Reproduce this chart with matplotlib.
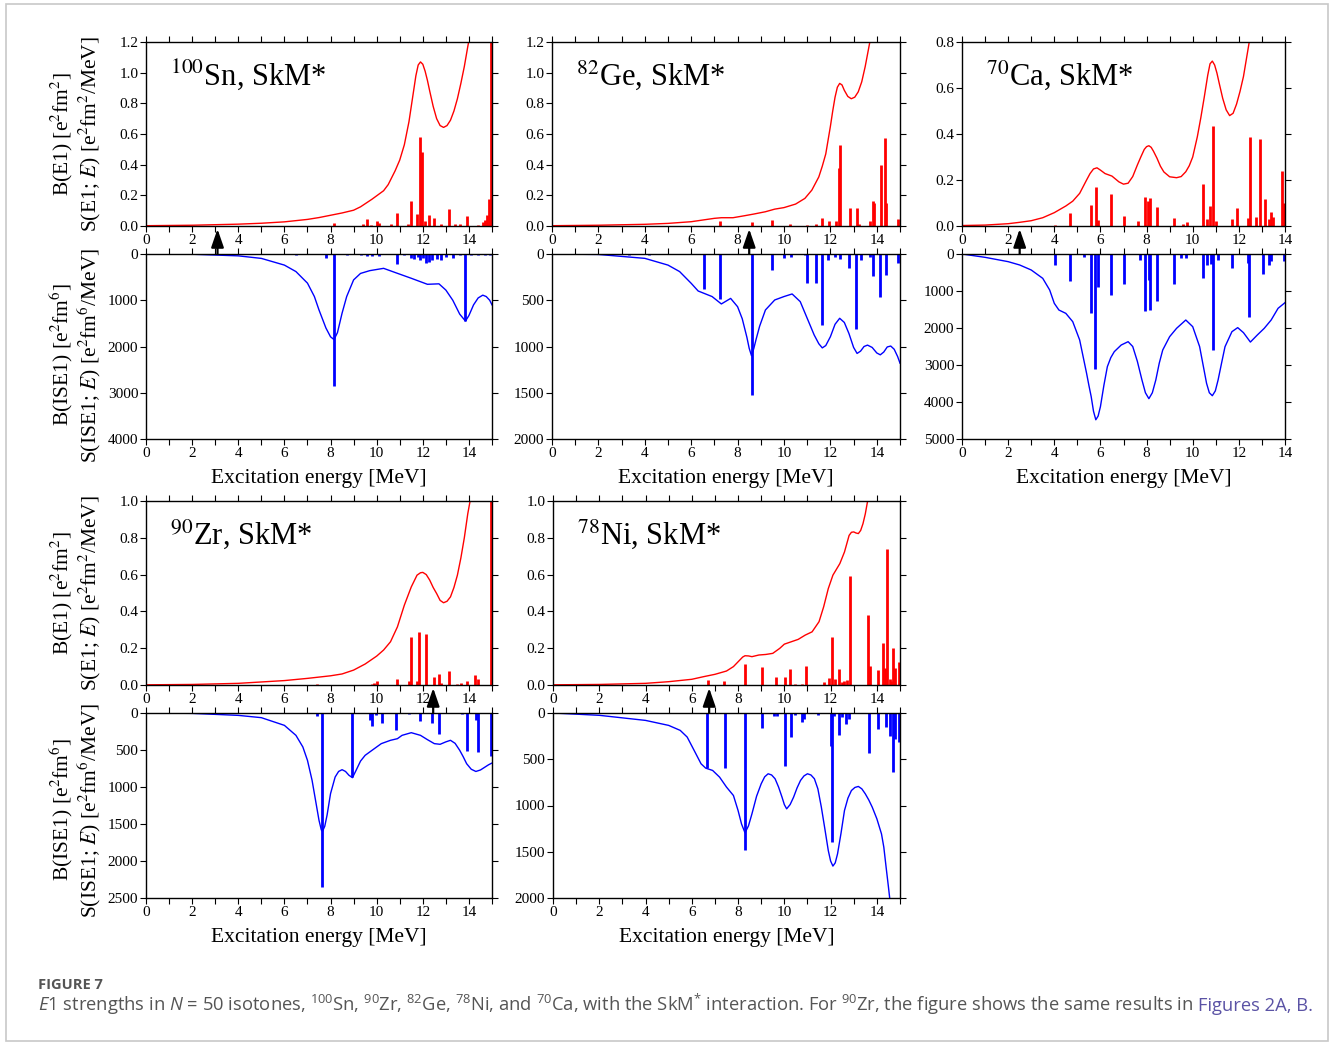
import matplotlib
matplotlib.use("Agg")
import matplotlib.pyplot as plt
from matplotlib.ticker import MultipleLocator, FormatStrFormatter
from matplotlib.patches import Rectangle

# ---------------- data ----------------
# 100Sn
sn_e1_cx = [0, 2, 4, 5, 6, 7, 7.5, 8, 8.5, 9, 9.3, 9.6, 9.8, 10, 10.3, 10.5, 10.8, 11.0, 11.2, 11.4, 11.55, 11.7, 11.8, 11.9, 12.0, 12.1, 12.2, 12.3, 12.45, 12.6, 12.75, 12.9, 13.05, 13.2, 13.35, 13.5, 13.65, 13.8, 13.95, 14.05]
sn_e1_cy = [0.002, 0.005, 0.012, 0.018, 0.027, 0.043, 0.055, 0.07, 0.085, 0.103, 0.125, 0.155, 0.175, 0.197, 0.23, 0.27, 0.36, 0.43, 0.53, 0.68, 0.83, 0.98, 1.05, 1.07, 1.055, 1.01, 0.95, 0.88, 0.78, 0.70, 0.655, 0.643, 0.655, 0.69, 0.75, 0.83, 0.93, 1.04, 1.17, 1.25]
sn_e1_bx = [8.15, 9.4, 9.6, 9.75, 10.0, 10.1, 10.6, 10.9, 11.35, 11.5, 11.75, 11.9, 11.98, 12.1, 12.25, 12.5, 12.8, 13.15, 13.4, 13.6, 13.9, 14.4, 14.6, 14.7, 14.8, 14.87, 14.95]
sn_e1_by = [0.02, 0.01, 0.045, 0.008, 0.035, 0.02, 0.01, 0.085, 0.01, 0.16, 0.08, 0.58, 0.485, 0.035, 0.07, 0.055, 0.015, 0.11, 0.01, 0.01, 0.065, 0.005, 0.025, 0.04, 0.07, 0.175, 1.25]
sn_is_cx = [0, 2, 4, 5, 6, 6.5, 7, 7.3, 7.5, 7.8, 8.0, 8.15, 8.3, 8.5, 8.7, 9.0, 9.3, 9.7, 10.3, 10.8, 11.5, 12.2, 12.7, 13.0, 13.3, 13.6, 13.85, 14.0, 14.2, 14.4, 14.6, 14.75, 14.9, 15]
sn_is_cy = [0, 5, 40, 95, 240, 380, 630, 920, 1210, 1600, 1790, 1850, 1700, 1280, 920, 560, 420, 360, 310, 400, 525, 655, 645, 780, 1000, 1300, 1450, 1330, 1100, 950, 890, 920, 1000, 1100]
sn_is_bx = [6.5, 7.8, 8.15, 8.7, 9.3, 9.6, 9.8, 10.1, 10.9, 11.2, 11.5, 11.6, 11.8, 11.9, 12.0, 12.15, 12.25, 12.4, 12.6, 12.8, 13.0, 13.3, 13.6, 13.85, 14.1, 14.4, 14.7, 14.9]
sn_is_by = [20, 90, 2860, 30, 30, 50, 40, 50, 220, 30, 80, 100, 60, 130, 80, 200, 170, 130, 100, 140, 60, 80, 30, 1450, 25, 20, 25, 20]

# 82Ge
ge_e1_cx = [0, 2, 4, 5, 6, 6.5, 7, 7.3, 7.8, 8.3, 8.7, 9.2, 9.6, 10.0, 10.5, 10.9, 11.2, 11.5, 11.65, 11.8, 11.9, 12.0, 12.1, 12.2, 12.3, 12.4, 12.5, 12.6, 12.75, 12.9, 13.05, 13.2, 13.35, 13.5, 13.6, 13.7, 13.8]
ge_e1_cy = [0.002, 0.005, 0.011, 0.017, 0.028, 0.039, 0.05, 0.054, 0.054, 0.067, 0.078, 0.093, 0.11, 0.12, 0.143, 0.18, 0.234, 0.32, 0.39, 0.47, 0.56, 0.65, 0.75, 0.84, 0.905, 0.93, 0.92, 0.885, 0.845, 0.83, 0.84, 0.875, 0.94, 1.04, 1.12, 1.2, 1.28]
ge_e1_bx = [7.25, 8.6, 9.5, 10.25, 11.0, 11.4, 11.65, 11.95, 12.25, 12.35, 12.4, 12.85, 13.15, 13.25, 13.7, 13.85, 13.9, 14.2, 14.35, 14.4, 14.9]
ge_e1_by = [0.03, 0.025, 0.04, 0.012, 0.005, 0.01, 0.055, 0.03, 0.03, 0.38, 0.525, 0.115, 0.12, 0.015, 0.035, 0.16, 0.15, 0.395, 0.575, 0.15, 0.045]
ge_is_cx = [0, 2, 4, 5, 5.5, 6.0, 6.3, 6.6, 6.9, 7.3, 7.7, 8.0, 8.2, 8.4, 8.5, 8.6, 8.7, 8.8, 8.95, 9.2, 9.6, 10.0, 10.35, 10.7, 11.0, 11.3, 11.5, 11.65, 11.8, 12.0, 12.2, 12.4, 12.6, 12.8, 13.0, 13.15, 13.3, 13.45, 13.6, 13.8, 14.0, 14.15, 14.3, 14.45, 14.6, 14.75, 14.9, 15]
ge_is_cy = [0, 5, 47, 120, 190, 317, 400, 430, 460, 540, 480, 570, 700, 900, 1020, 1100, 1020, 920, 780, 605, 497, 460, 432, 515, 695, 875, 970, 1015, 990, 894, 760, 695, 740, 860, 1010, 1075, 1050, 1000, 985, 1010, 1070, 1090, 1060, 1005, 995, 1030, 1110, 1180]
ge_is_bx = [3.3, 4.2, 6.55, 7.25, 8.6, 9.5, 10.0, 10.3, 10.9, 11.0, 11.4, 11.65, 11.9, 12.2, 12.4, 12.8, 13.1, 13.3, 13.7, 13.85, 14.15, 14.4, 14.9]
ge_is_by = [10, 10, 380, 490, 1520, 170, 40, 30, 15, 310, 310, 770, 60, 30, 50, 150, 810, 60, 30, 240, 470, 230, 100]

# 70Ca
ca_e1_cx = [0, 1, 2, 2.5, 3, 3.5, 4, 4.5, 4.8, 5.1, 5.4, 5.55, 5.7, 5.85, 6.0, 6.2, 6.5, 6.8, 7.0, 7.2, 7.4, 7.6, 7.75, 7.9, 8.0, 8.1, 8.2, 8.3, 8.45, 8.6, 8.75, 9.0, 9.3, 9.5, 9.7, 9.85, 10.0, 10.2, 10.35, 10.5, 10.65, 10.75, 10.85, 10.95, 11.05, 11.15, 11.3, 11.45, 11.6, 11.75, 11.9, 12.05, 12.2, 12.35, 12.45, 12.55]
ca_e1_cy = [0.002, 0.004, 0.01, 0.016, 0.023, 0.036, 0.058, 0.087, 0.108, 0.142, 0.2, 0.228, 0.248, 0.253, 0.243, 0.228, 0.217, 0.192, 0.182, 0.186, 0.215, 0.265, 0.3, 0.333, 0.345, 0.349, 0.342, 0.325, 0.295, 0.26, 0.235, 0.214, 0.21, 0.215, 0.236, 0.262, 0.3, 0.388, 0.47, 0.56, 0.655, 0.705, 0.717, 0.70, 0.665, 0.62, 0.555, 0.505, 0.48, 0.49, 0.53, 0.585, 0.65, 0.74, 0.80, 0.86]
ca_e1_bx = [4.05, 4.7, 5.6, 5.8, 5.9, 6.45, 7.0, 7.65, 7.95, 8.05, 8.15, 8.45, 9.2, 9.6, 9.75, 10.45, 10.6, 10.75, 10.9, 11.0, 11.7, 11.9, 12.4, 12.5, 12.75, 12.9, 13.15, 13.3, 13.4, 13.5, 13.85, 13.95]
ca_e1_by = [0.005, 0.058, 0.09, 0.17, 0.028, 0.14, 0.045, 0.02, 0.128, 0.11, 0.12, 0.083, 0.035, 0.01, 0.016, 0.183, 0.03, 0.085, 0.435, 0.02, 0.03, 0.08, 0.035, 0.385, 0.04, 0.38, 0.118, 0.03, 0.063, 0.04, 0.24, 0.1]
ca_is_cx = [0, 1, 2, 2.5, 3, 3.5, 3.8, 4.0, 4.2, 4.5, 4.8, 5.1, 5.4, 5.5, 5.6, 5.7, 5.8, 5.9, 6.0, 6.15, 6.3, 6.45, 6.6, 6.9, 7.2, 7.4, 7.6, 7.8, 7.95, 8.1, 8.25, 8.4, 8.55, 8.7, 9.0, 9.3, 9.7, 10.0, 10.3, 10.45, 10.6, 10.72, 10.85, 10.98, 11.1, 11.25, 11.4, 11.7, 11.95, 12.2, 12.5, 12.8, 13.1, 13.4, 13.7, 14.0]
ca_is_cy = [0, 90, 207, 297, 432, 658, 973, 1333, 1514, 1604, 1829, 2324, 3225, 3550, 3856, 4250, 4480, 4380, 4126, 3550, 3045, 2800, 2640, 2460, 2370, 2500, 2900, 3405, 3750, 3910, 3750, 3405, 2950, 2595, 2234, 2009, 1784, 1964, 2505, 3000, 3495, 3750, 3830, 3700, 3405, 2950, 2505, 2099, 1990, 2126, 2380, 2189, 2009, 1784, 1468, 1315]
ca_is_bx = [4.05, 4.7, 5.3, 5.6, 5.75, 5.9, 6.45, 7.0, 7.7, 7.95, 8.1, 8.15, 8.45, 9.2, 9.5, 9.7, 10.45, 10.6, 10.8, 10.9, 11.1, 11.7, 12.4, 12.45, 13.05, 13.3, 13.4, 13.95]
ca_is_by = [300, 730, 80, 1600, 3100, 900, 1100, 800, 150, 1550, 700, 1500, 1270, 800, 120, 100, 650, 300, 260, 2600, 150, 380, 250, 1700, 530, 300, 200, 200]

# 90Zr
zr_e1_cx = [0, 2, 4, 6, 7, 8, 8.5, 9.0, 9.5, 10.0, 10.3, 10.6, 10.9, 11.2, 11.5, 11.75, 11.9, 12.0, 12.15, 12.3, 12.45, 12.6, 12.75, 12.9, 13.05, 13.2, 13.35, 13.5, 13.65, 13.8, 13.95, 14.05, 14.1]
zr_e1_cy = [0.001, 0.003, 0.009, 0.024, 0.036, 0.05, 0.06, 0.081, 0.114, 0.157, 0.19, 0.235, 0.316, 0.434, 0.533, 0.597, 0.61, 0.612, 0.60, 0.57, 0.53, 0.497, 0.46, 0.447, 0.455, 0.479, 0.53, 0.597, 0.69, 0.80, 0.931, 1.0, 1.05]
zr_e1_bx = [7.4, 7.6, 9.8, 9.9, 10.0, 10.9, 11.4, 11.5, 11.75, 11.85, 12.15, 12.5, 12.7, 12.8, 13.15, 13.5, 13.65, 13.9, 14.25, 14.4, 14.95]
zr_e1_by = [0.003, 0.002, 0.005, 0.01, 0.02, 0.03, 0.02, 0.26, 0.02, 0.29, 0.275, 0.045, 0.06, 0.01, 0.075, 0.005, 0.01, 0.02, 0.055, 0.03, 1.05]
zr_is_cx = [0, 2, 4, 5, 6, 6.5, 6.8, 7.0, 7.2, 7.35, 7.5, 7.6, 7.65, 7.75, 7.85, 8.0, 8.2, 8.35, 8.5, 8.65, 8.8, 8.95, 9.1, 9.3, 9.5, 9.8, 10.2, 10.6, 10.9, 11.1, 11.5, 11.9, 12.2, 12.5, 12.75, 13.0, 13.2, 13.4, 13.6, 13.75, 13.9, 14.1, 14.3, 14.5, 14.7, 14.85, 15]
zr_is_cy = [0, 5, 32, 63, 167, 302, 459, 640, 910, 1180, 1450, 1580, 1600, 1530, 1380, 1090, 865, 790, 766, 790, 842, 874, 780, 650, 572, 504, 414, 369, 347, 302, 266, 302, 360, 414, 423, 390, 369, 410, 504, 590, 685, 760, 790, 770, 730, 700, 676]
zr_is_bx = [3.05, 7.4, 7.65, 8.95, 9.7, 9.8, 9.95, 10.25, 10.85, 11.4, 11.9, 12.4, 12.7, 13.7, 13.9, 14.3, 14.4, 14.95]
zr_is_by = [5, 40, 2350, 870, 100, 180, 30, 130, 230, 20, 110, 130, 280, 20, 520, 100, 530, 580]

# 78Ni
ni_e1_cx = [0, 2, 4, 5, 6, 6.5, 7.0, 7.5, 7.8, 8.1, 8.2, 8.3, 8.45, 8.6, 8.9, 9.2, 9.5, 9.8, 10.0, 10.3, 10.6, 10.9, 11.2, 11.5, 11.7, 11.9, 12.1, 12.4, 12.6, 12.8, 12.9, 13.0, 13.1, 13.2, 13.3, 13.4, 13.5, 13.6, 13.7]
ni_e1_cy = [0.001, 0.003, 0.009, 0.018, 0.031, 0.045, 0.058, 0.076, 0.1, 0.139, 0.152, 0.159, 0.158, 0.154, 0.163, 0.166, 0.172, 0.199, 0.222, 0.235, 0.248, 0.271, 0.289, 0.344, 0.425, 0.524, 0.597, 0.66, 0.723, 0.813, 0.83, 0.832, 0.826, 0.823, 0.84, 0.877, 0.93, 1.0, 1.06]
ni_e1_bx = [6.7, 7.4, 8.3, 9.05, 9.65, 10.05, 10.25, 10.45, 10.75, 10.95, 11.7, 11.95, 12.05, 12.2, 12.35, 12.5, 12.6, 12.7, 12.85, 13.6, 13.7, 14.05, 14.25, 14.35, 14.45, 14.55, 14.6, 14.7, 14.8, 14.95]
ni_e1_by = [0.028, 0.02, 0.115, 0.1, 0.045, 0.045, 0.085, 0.007, 0.005, 0.105, 0.015, 0.04, 0.26, 0.035, 0.085, 0.015, 0.02, 0.025, 0.59, 0.38, 0.105, 0.08, 0.23, 0.095, 0.74, 0.03, 0.02, 0.2, 0.09, 0.125]
ni_is_cx = [0, 2, 4, 5, 5.5, 5.8, 6.1, 6.4, 6.6, 6.9, 7.2, 7.5, 7.8, 8.0, 8.15, 8.3, 8.45, 8.6, 8.8, 9.0, 9.15, 9.3, 9.45, 9.6, 9.75, 9.9, 10.0, 10.1, 10.25, 10.4, 10.55, 10.7, 10.85, 11.0, 11.15, 11.3, 11.45, 11.6, 11.75, 11.9, 12.0, 12.1, 12.2, 12.3, 12.45, 12.6, 12.75, 12.9, 13.05, 13.2, 13.35, 13.5, 13.65, 13.8, 14.0, 14.2, 14.3, 14.4, 14.5, 14.6]
ni_is_cy = [0, 25, 80, 134, 188, 260, 404, 549, 596, 621, 693, 801, 892, 1054, 1200, 1295, 1220, 1090, 900, 765, 690, 657, 670, 711, 800, 910, 990, 1036, 990, 910, 810, 729, 680, 657, 670, 711, 820, 1018, 1250, 1487, 1600, 1655, 1620, 1523, 1300, 1054, 920, 838, 805, 794, 820, 874, 940, 1018, 1144, 1307, 1450, 1668, 1880, 2100]
ni_is_bx = [6.65, 7.45, 8.3, 9.05, 9.55, 9.7, 10.05, 10.3, 10.45, 10.75, 10.85, 11.45, 12.0, 12.05, 12.15, 12.35, 12.5, 12.65, 12.8, 13.65, 14.05, 14.4, 14.55, 14.7, 14.8, 14.95]
ni_is_by = [590, 590, 1480, 160, 30, 30, 570, 260, 20, 100, 60, 20, 360, 1390, 30, 240, 40, 120, 60, 430, 170, 150, 250, 640, 280, 310]

nuclei = ["$^{100}$Sn, SkM*", "$^{82}$Ge, SkM*", "$^{70}$Ca, SkM*", "$^{90}$Zr, SkM*", "$^{78}$Ni, SkM*"]
x_max = [15, 15, 14, 15, 15]
e1_ymax = [1.2, 1.2, 0.8, 1.0, 1.0]
is_ymax = [4000, 2000, 5000, 2500, 2000]
is_ystep = [1000, 500, 1000, 500, 500]
threshold = [3.1, 8.5, 2.5, 12.45, 6.75]

e1_curves = [(sn_e1_cx, sn_e1_cy), (ge_e1_cx, ge_e1_cy), (ca_e1_cx, ca_e1_cy), (zr_e1_cx, zr_e1_cy), (ni_e1_cx, ni_e1_cy)]
e1_bars = [(sn_e1_bx, sn_e1_by), (ge_e1_bx, ge_e1_by), (ca_e1_bx, ca_e1_by), (zr_e1_bx, zr_e1_by), (ni_e1_bx, ni_e1_by)]
is_curves = [(sn_is_cx, sn_is_cy), (ge_is_cx, ge_is_cy), (ca_is_cx, ca_is_cy), (zr_is_cx, zr_is_cy), (ni_is_cx, ni_is_cy)]
is_bars = [(sn_is_bx, sn_is_by), (ge_is_bx, ge_is_by), (ca_is_bx, ca_is_by), (zr_is_bx, zr_is_by), (ni_is_bx, ni_is_by)]

# ---------------- layout ----------------
W, H = 1332, 1043
plt.rcParams['font.family'] = ['Liberation Serif', 'DejaVu Serif']
plt.rcParams['mathtext.fontset'] = 'stix'
plt.rcParams['mathtext.rm'] = 'Open Sans'
plt.rcParams['mathtext.it'] = 'Open Sans:italic'
plt.rcParams['mathtext.bf'] = 'Open Sans:bold'

fig = plt.figure(figsize=(W / 100, H / 100), dpi=100)
fig.patches.append(Rectangle((6 / W, 1 - 1041 / H), (1328 - 6) / W, (1041 - 4) / H,
                             transform=fig.transFigure, fill=False, edgecolor='#c8c8c8', lw=1.2))

# pixel boxes: (x0, x1, top_y0, top_y1, bot_y0, bot_y1)
boxes = [(146, 492, 42, 226, 254, 439),
         (552, 900, 42, 226, 254, 439),
         (962, 1285, 42, 226, 254, 439),
         (146, 492, 501, 685, 713, 898),
         (553, 900, 501, 685, 713, 898)]


def px_axes(x0, x1, y0, y1):
    return fig.add_axes([x0 / W, 1 - y1 / H, (x1 - x0) / W, (y1 - y0) / H])


def fx(x):
    return x / W


def fy(y):
    return 1 - y / H


def style(ax, xmax):
    ax.set_xlim(0, xmax)
    ax.xaxis.set_major_locator(MultipleLocator(2))
    ax.xaxis.set_minor_locator(MultipleLocator(1))
    ax.tick_params(which='both', direction='out', length=4, width=0.8,
                   top=True, right=True, bottom=True, left=True,
                   labelsize=11, pad=1.5, colors='black')
    ax.tick_params(axis='y', which='minor', left=False, right=False)
    for s in ax.spines.values():
        s.set_linewidth(1.0)


LW_BAR = 2.0
for i in range(5):
    x0, x1, t0, t1, b0, b1 = boxes[i]
    axt = px_axes(x0, x1, t0, t1)
    axb = px_axes(x0, x1, b0, b1)
    style(axt, x_max[i])
    style(axb, x_max[i])

    # top: E1
    cx, cy = e1_curves[i]
    axt.plot(cx, cy, color='#ff0000', lw=1.0)
    bx, by = e1_bars[i]
    axt.vlines(bx, 0, by, color='#ff0000', lw=LW_BAR)
    axt.set_ylim(0, e1_ymax[i])
    axt.yaxis.set_major_locator(MultipleLocator(0.2))
    axt.yaxis.set_major_formatter(FormatStrFormatter('%.1f'))

    # bottom: ISE1 (inverted)
    cx, cy = is_curves[i]
    axb.plot(cx, cy, color='#0000ff', lw=1.0)
    bx, by = is_bars[i]
    axb.vlines(bx, 0, by, color='#0000ff', lw=LW_BAR)
    axb.set_ylim(is_ymax[i], 0)
    axb.yaxis.set_major_locator(MultipleLocator(is_ystep[i]))
    axb.yaxis.set_major_formatter(FormatStrFormatter('%d'))

    # threshold arrow
    axt.annotate('', xy=(threshold[i], -3 / 184), xycoords=('data', 'axes fraction'),
                 xytext=(threshold[i], -(b0 - t1) / 184), textcoords=('data', 'axes fraction'),
                 arrowprops=dict(arrowstyle='-|>,head_length=1.1,head_width=0.38',
                                 color='black', lw=1.6, shrinkA=0, shrinkB=0, mutation_scale=10),
                 annotation_clip=False)

    # title
    fig.text(fx(x0 + 24), fy(t0 + 43), nuclei[i], fontsize=22, ha='left', va='baseline')

    # x label
    fig.text(fx((x0 + x1) / 2), fy(b1 + 44), 'Excitation energy [MeV]', fontsize=15.5,
             ha='center', va='baseline')

# y labels (left column only)
for tc, bc in [(134, 355), (593, 810)]:
    fig.text(fx(68), fy(tc), r"B(E1) [e$^2$fm$^2$]", fontsize=15.5, rotation=90,
             rotation_mode='anchor', ha='center', va='baseline')
    fig.text(fx(96), fy(tc), r"S(E1; $E$) [e$^2$fm$^2$/MeV]", fontsize=15.5, rotation=90,
             rotation_mode='anchor', ha='center', va='baseline')
    fig.text(fx(68), fy(bc), r"B(ISE1) [e$^2$fm$^6$]", fontsize=15.5, rotation=90,
             rotation_mode='anchor', ha='center', va='baseline')
    fig.text(fx(96), fy(bc), r"S(ISE1; $E$) [e$^2$fm$^6$/MeV]", fontsize=15.5, rotation=90,
             rotation_mode='anchor', ha='center', va='baseline')

# caption
fig.text(fx(38), fy(989), 'FIGURE 7', fontsize=10.5, fontweight='bold', color='#555555',
         family='Open Sans', va='baseline')
cap = fig.text(fx(38), fy(1011),
               r"$E$1 strengths in $N$ = 50 isotones, $^{100}$Sn, $^{90}$Zr, $^{82}$Ge, $^{78}$Ni, "
               r"and $^{70}$Ca, with the SkM$^{*}$ interaction. For $^{90}$Zr, the figure shows the same results in",
               fontsize=13.2, color='#555555', family='Open Sans', va='baseline', math_fontfamily='custom')
renderer = fig.canvas.get_renderer()
bb = cap.get_window_extent(renderer)
fig.text((bb.x1 + 5) / W, fy(1011), 'Figures 2A, B.', fontsize=13.2, color='#5b53a5',
         family='Open Sans', va='baseline')

fig.savefig('out.png', dpi=100)
